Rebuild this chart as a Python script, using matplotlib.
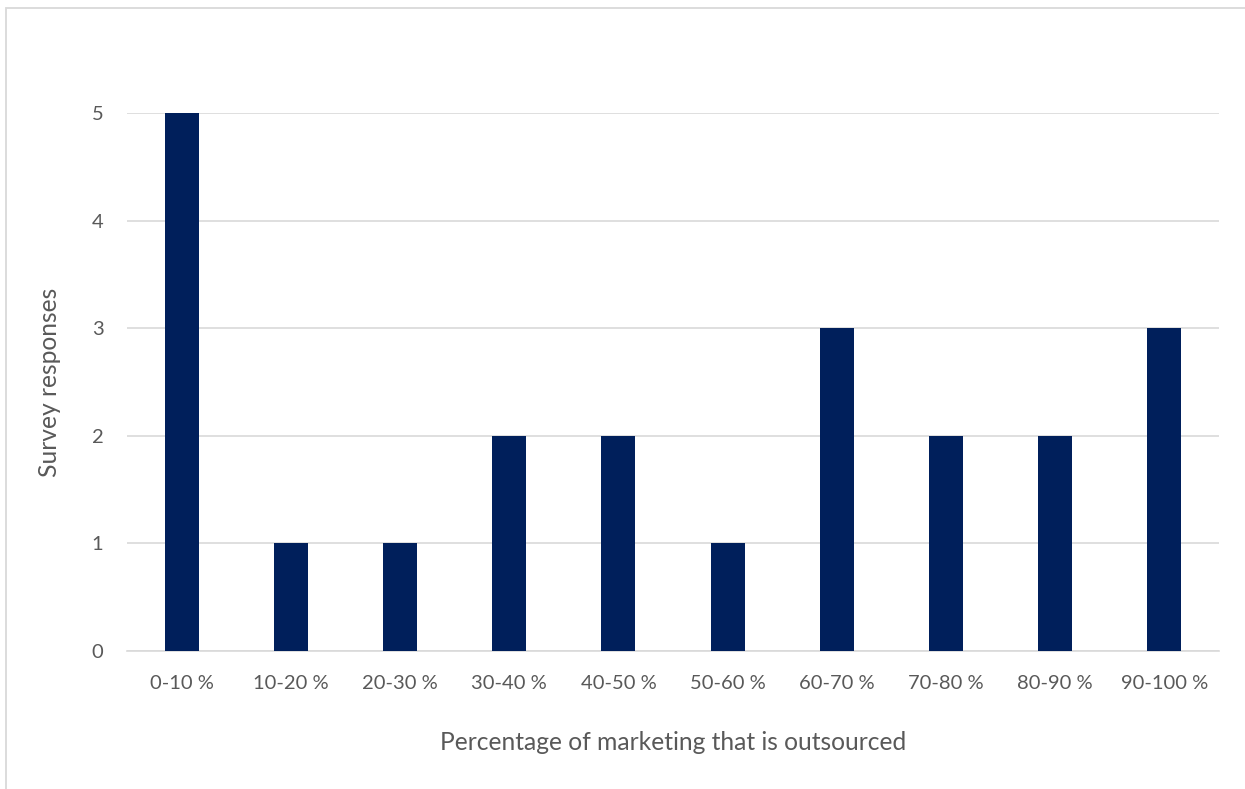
import matplotlib
matplotlib.use("Agg")
from matplotlib import pyplot as plt
from matplotlib.patches import Rectangle

categories = ["0-10 %", "10-20 %", "20-30 %", "30-40 %", "40-50 %",
              "50-60 %", "60-70 %", "70-80 %", "80-90 %", "90-100 %"]
responses = [5, 1, 1, 2, 2, 1, 3, 2, 2, 3]
y_ticks = [0, 1, 2, 3, 4, 5]

plt.rcParams['font.family'] = ['Lato', 'DejaVu Sans']

fig = plt.figure(figsize=(12.45, 7.89), dpi=100)
ax = fig.add_axes([127 / 1245, 1 - 651 / 789, (1219 - 127) / 1245, (651 - 113) / 789])

# outer chart border (cut off at right and bottom)
fig.patches.append(Rectangle((6 / 1245, -0.1), 1.2, (1 - 8 / 789) + 0.1,
                             transform=fig.transFigure, fill=False,
                             edgecolor='#d9d9d9', linewidth=1.3))

x = range(len(categories))
ax.bar(x, responses, width=0.31, color='#001f5b', zorder=3)

ax.set_xlim(-0.5, len(categories) - 0.5)
ax.set_ylim(0, 5)
ax.set_yticks(y_ticks)
ax.set_xticks(list(x))
ax.set_xticklabels(categories)
ax.grid(axis='y', color='#d9d9d9', linewidth=1.2, zorder=0)
ax.tick_params(length=0, labelsize=14.5, labelcolor='#595959')
ax.tick_params(axis='x', pad=17)
ax.tick_params(axis='y', pad=17)
for s in ['top', 'right', 'left']:
    ax.spines[s].set_visible(False)
ax.spines['bottom'].set_color('#d9d9d9')
ax.spines['bottom'].set_linewidth(1.2)

ax.set_xlabel('Percentage of marketing that is outsourced', fontsize=17.7,
              color='#595959', labelpad=28)
ax.set_ylabel('Survey responses', fontsize=17.7, color='#595959', labelpad=22)

fig.savefig('out.png', dpi=100)
